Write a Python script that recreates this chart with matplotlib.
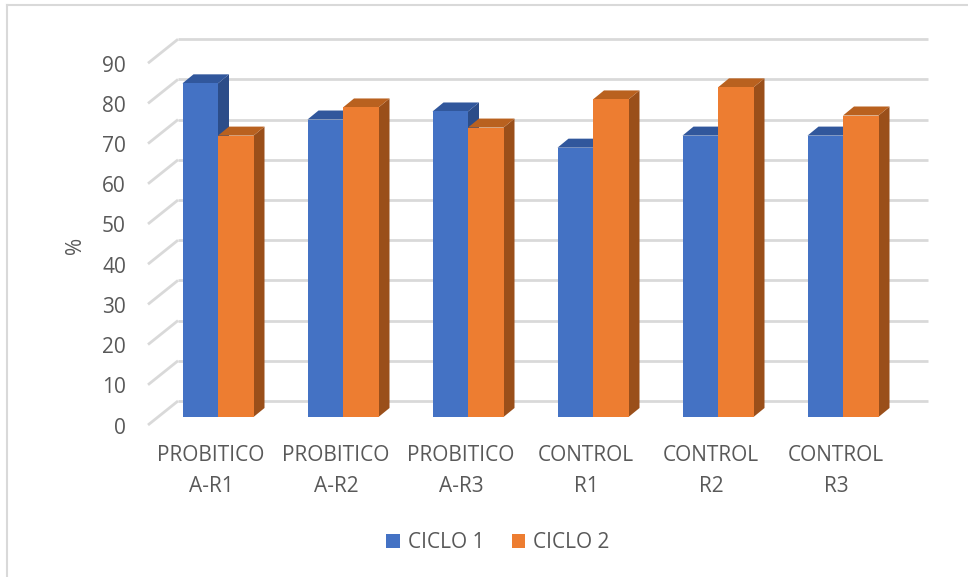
import matplotlib.pyplot as plt
from matplotlib.patches import Polygon, Patch
from matplotlib.lines import Line2D

# data
categories = ['PROBITICO\nA-R1', 'PROBITICO\nA-R2', 'PROBITICO\nA-R3',
              'CONTROL\nR1', 'CONTROL\nR2', 'CONTROL\nR3']
ciclo1 = [83, 74, 76, 67, 70, 70]
ciclo2 = [70, 77, 72, 79, 82, 75]
yticks = [0, 10, 20, 30, 40, 50, 60, 70, 80, 90]

plt.rcParams['font.family'] = ['Open Sans', 'DejaVu Sans']
TXT = '#595959'
GRID = '#d9d9d9'
FS = 15

W, H = 968, 577
fig = plt.figure(figsize=(W / 100, H / 100), dpi=100)

# front plane of the bars: group centre 0 at px 218, 125 px per group,
# value 0 at px 417, 4.02 px per unit
PX_X = 125.0
PX_Y = 4.02
x0_px, y0_px = 218.0, 417.0
ax = fig.add_axes([(x0_px - 0.5 * PX_X) / W, (H - y0_px) / H,
                   6 * PX_X / W, 90 * PX_Y / H])
ax.set_xlim(-0.5, 5.5)
ax.set_ylim(0, 90)
ax.axis('off')


def px2x(px):
    return (px - x0_px) / PX_X


def dpx_y(d):
    return d / PX_Y


# depth offsets (floor front / back wall relative to bar front plane)
front_dx, front_dy = px2x(148), -dpx_y(8)
back_dx, back_dy = px2x(178), dpx_y(16)
right_x = px2x(928)

# walls: horizontal gridlines on the back wall and diagonals on the side wall
for v in yticks:
    ax.plot([back_dx, right_x], [v + back_dy, v + back_dy], color=GRID,
            lw=2, clip_on=False, zorder=0, solid_capstyle='butt')
    ax.plot([front_dx, back_dx], [v + front_dy, v + back_dy], color=GRID,
            lw=2, clip_on=False, zorder=0, solid_capstyle='butt')
    ax.text(px2x(126), v + front_dy - dpx_y(3), str(v), ha='right',
            va='center', fontsize=FS, color=TXT)

# bars with pseudo 3d top and side faces
bw = 35.5 / PX_X
ddx = 11 / PX_X
ddy = dpx_y(9)
series = [(ciclo1, -bw / 2, '#4472C4', '#31579C', '#2C4D89'),
          (ciclo2, bw / 2, '#ED7D31', '#B9611F', '#9A4F1A')]
z = 2
for i in range(len(categories)):
    for vals, off, c_front, c_top, c_side in series:
        h = vals[i]
        xl = i + off - bw / 2
        xr = i + off + bw / 2
        side = Polygon([(xr, 0), (xr + ddx, ddy), (xr + ddx, h + ddy), (xr, h)],
                       closed=True, facecolor=c_side, edgecolor='none',
                       clip_on=False, zorder=z)
        top = Polygon([(xl, h), (xl + ddx, h + ddy), (xr + ddx, h + ddy), (xr, h)],
                      closed=True, facecolor=c_top, edgecolor='none',
                      clip_on=False, zorder=z)
        ax.add_patch(side)
        ax.add_patch(top)
        ax.bar(i + off, h, width=bw, color=c_front, zorder=z + 0.5,
               clip_on=False)
        z += 1

# category labels
for i, lab in enumerate(categories):
    ax.text(i - 7 / PX_X, dpx_y(-445 + y0_px), lab, ha='center', va='top',
            fontsize=FS, color=TXT, linespacing=1.6)

ax.text(px2x(76), dpx_y(y0_px - 245), '%', rotation=90, ha='center',
        va='center', fontsize=FS, color=TXT)

handles = [Patch(facecolor='#4472C4', label='CICLO 1'),
           Patch(facecolor='#ED7D31', label='CICLO 2')]
fig.legend(handles=handles, loc='center', bbox_to_anchor=(498 / W, 1 - 543 / H),
           ncol=2, frameon=False, fontsize=FS, labelcolor=TXT,
           handlelength=0.65, handleheight=0.65, handletextpad=0.4,
           columnspacing=1.3)

# chart area border (only top and left visible)
fig.add_artist(Line2D([7 / W, 7 / W], [0, 1 - 5 / H], color=GRID, lw=1.5))
fig.add_artist(Line2D([7 / W, 1], [1 - 5 / H, 1 - 5 / H], color=GRID, lw=1.5))

fig.savefig('out.png', dpi=100, facecolor='white')
